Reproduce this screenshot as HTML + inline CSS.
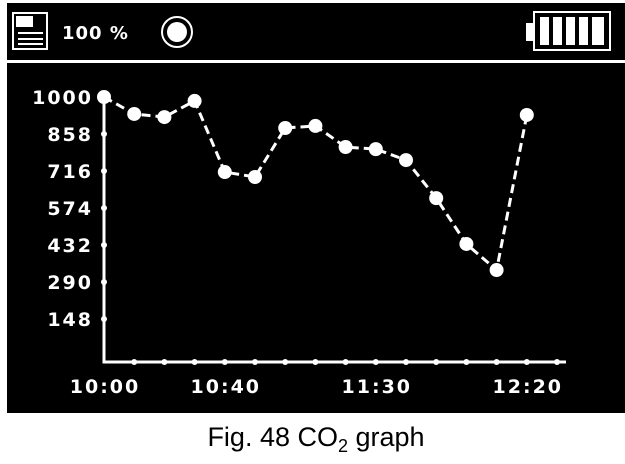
<!DOCTYPE html>
<html><head><meta charset="utf-8"><style>
html,body{margin:0;padding:0;background:#fff;width:625px;height:464px;overflow:hidden}
svg{display:block}
text{font-family:"Liberation Sans",Arial,sans-serif}
.scr{font-family:"DejaVu Sans","Liberation Sans",sans-serif;font-weight:bold}
</style></head><body>
<svg width="625" height="464" viewBox="0 0 625 464">
<rect x="7" y="3" width="618" height="410" fill="#000"/>
<g>
 <g fill="none" stroke="#fff" stroke-width="2">
  <rect x="13" y="13" width="34" height="36"/><rect x="17" y="17" width="15" height="9" fill="#fff"/>
  <line x1="18" y1="33" x2="43" y2="33"/><line x1="18" y1="39" x2="43" y2="39"/><line x1="18" y1="44" x2="43" y2="44"/>
 </g>
 <text class="scr" x="62" y="39" fill="#fff" font-size="18" letter-spacing="1">100 %</text>
 <g><circle cx="177" cy="32" r="15" fill="none" stroke="#fff" stroke-width="2"/><circle cx="177" cy="32" r="10" fill="#fff"/></g>
 <g fill="none" stroke="#fff" stroke-width="2">
  <rect x="527" y="24" width="6" height="16" fill="#fff"/><rect x="534" y="12" width="76" height="38"/>
  <rect x="540" y="17" width="9" height="28" fill="#fff" stroke="none"/><rect x="553" y="17" width="9" height="28" fill="#fff" stroke="none"/><rect x="566" y="17" width="9" height="28" fill="#fff" stroke="none"/><rect x="579" y="17" width="9" height="28" fill="#fff" stroke="none"/><rect x="592" y="17" width="12" height="28" fill="#fff" stroke="none"/>
 </g>
 <rect x="7" y="60" width="618" height="3" fill="#fff"/>
</g>
<g id="chart"></g>
<text x="316" y="446" text-anchor="middle" font-size="27" fill="#000">Fig. 48 CO<tspan font-size="18" dy="6">2</tspan><tspan dy="-6"> graph</tspan></text>
</svg>
<script>
const times=["10:00","10:10","10:20","10:30","10:40","10:50","11:00","11:10","11:20","11:30","11:40","11:50","12:00","12:10","12:20"];
const co2=[1000,935,923,985,712,693,881,889,808,800,758,612,436,336,931];
const yTicks=[1000,858,716,574,432,290,148];
const xLabels=["10:00","10:40","11:30","12:20"];
const NS="http://www.w3.org/2000/svg";
const g=document.getElementById('chart');
const X=i=>104+i*30.2;
const Y=v=>97+(1000-v)*0.2606;
function mk(t,a){const e=document.createElementNS(NS,t);for(const k in a)e.setAttribute(k,a[k]);g.appendChild(e);return e;}
let e=mk('path',{d:'M104 95 V362 H566',fill:'none',stroke:'#fff','stroke-width':3});


yTicks.forEach(v=>{
 const t=mk('text',{class:'scr',x:93,y:Y(v)+7,'text-anchor':'end',fill:'#fff','font-size':19,'letter-spacing':2});t.textContent=v;
 
 
 const d=mk('circle',{cx:104,cy:Y(v),r:3,fill:'#fff'});
 
 
});
for(let i=1;i<=15;i++){
 const d=mk('circle',{cx:X(i),cy:362,r:3,fill:'#fff'});
 
 
}
xLabels.forEach(l=>{
 const i=times.indexOf(l);
 const t=mk('text',{class:'scr',x:X(i)+1,y:393,'text-anchor':'middle',fill:'#fff','font-size':19,'letter-spacing':2});t.textContent=l;
 
 
});
const line=mk('polyline',{points:co2.map((v,i)=>X(i)+','+Y(v)).join(' '),fill:'none',stroke:'#fff','stroke-width':3,'stroke-dasharray':'9,5'});


co2.forEach((v,i)=>{
 const c=mk('circle',{cx:X(i),cy:Y(v),r:7,fill:'#fff'});
 
 
});
</script>
</body></html>
